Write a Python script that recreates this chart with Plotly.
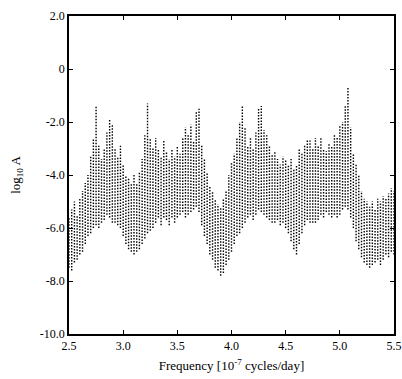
import plotly.graph_objects as go

# Frequency samples [10^-7 cycles/day]
freq = [round(2.5 + 0.025 * i, 3) for i in range(121)]

upper = [
    -5.6, -5.3, -5.0, -5.5, -4.9, -4.6, -4.3, -4.0, -3.3, -2.6,
    -1.4, -2.9, -3.4, -3.0, -2.4, -1.9, -2.1, -3.0, -3.3, -2.9,
    -3.6, -4.0, -4.1, -4.3, -4.0, -4.3, -3.9, -3.4, -2.5, -1.3,
    -2.6, -3.0, -2.6, -3.0, -3.3, -2.7, -3.1, -3.4, -3.0, -3.3,
    -2.9, -3.2, -2.6, -2.2, -2.5, -2.1, -2.7, -1.6, -1.5, -2.9,
    -3.4, -3.9, -4.4, -4.6, -4.9, -5.1, -5.2, -4.9, -4.6, -4.0,
    -3.5, -3.2, -2.6, -2.0, -1.4, -2.2, -2.9, -2.6, -3.0, -2.4,
    -1.5, -1.4, -2.3, -2.5, -2.9, -3.2, -3.1, -3.4, -3.6, -3.3,
    -3.4, -3.6, -3.4, -3.8, -3.6, -3.0, -3.2, -2.9, -2.7, -2.7,
    -3.0, -2.6, -2.9, -2.6, -3.0, -3.1, -2.8, -2.9, -2.5, -2.6,
    -2.1, -2.0, -1.4, -0.7, -2.2, -3.2, -3.6, -4.0, -4.6, -4.9,
    -5.0, -5.2, -5.0, -5.3, -4.9, -5.0, -4.8, -4.9, -4.7, -4.5,
    -4.6,
]

lower = [
    -7.5, -7.6, -7.3, -7.2, -7.0, -6.9, -6.6, -6.3, -6.2, -6.0,
    -5.9, -6.0, -5.8, -5.7, -5.5, -5.6, -5.8, -5.8, -5.9, -6.0,
    -6.3, -6.6, -6.8, -6.9, -7.0, -6.9, -6.8, -6.6, -6.4, -6.2,
    -6.1, -6.0, -5.8, -5.6, -5.9, -5.6, -5.7, -5.9, -5.6, -5.8,
    -5.6, -5.5, -5.4, -5.6, -5.5, -5.4, -5.3, -5.2, -5.4, -5.9,
    -6.3, -6.6, -7.0, -7.2, -7.5, -7.6, -7.8, -7.7, -7.4, -7.2,
    -6.9, -6.6, -6.3, -6.2, -6.0, -5.8, -5.6, -5.5, -5.7, -5.5,
    -5.3, -5.4, -5.5, -5.6, -5.7, -5.8, -5.8, -5.7, -5.9, -5.8,
    -6.0, -6.2, -6.5, -6.8, -7.0, -6.6, -6.2, -5.9, -5.7, -5.8,
    -5.8, -5.8, -5.7, -5.5, -5.6, -5.4, -5.5, -5.6, -5.5, -5.6,
    -5.5, -5.3, -5.2, -5.3, -5.6, -6.0, -6.5, -6.8, -7.1, -7.3,
    -7.4, -7.5, -7.4, -7.3, -7.2, -7.4, -7.2, -7.0, -7.1, -6.9,
    -7.0,
]

x_ticks = [2.5, 3.0, 3.5, 4.0, 4.5, 5.0, 5.5]
x_tick_text = ["2.5", "3.0", "3.5", "4.0", "4.5", "5.0", "5.5"]
y_ticks = [2, 0, -2, -4, -6, -8, -10]
y_tick_text = ["2.0", "0", "-2.0", "-4.0", "-6.0", "-8.0", "-10.0"]

xs, ys = [], []
for f, lo, hi in zip(freq, lower, upper):
    xs += [f, f, None]
    ys += [lo, hi, None]

fig = go.Figure()
fig.add_trace(go.Scatter(
    x=xs, y=ys, mode="lines",
    line=dict(color="black", width=1.4, dash="1.5px,1.5px"),
    hoverinfo="skip", showlegend=False,
))

font = "Liberation Serif, Times New Roman, serif"
fig.update_layout(
    width=402, height=379,
    margin=dict(l=69, r=8, t=16, b=45),
    paper_bgcolor="white", plot_bgcolor="white",
    font=dict(family=font, size=12, color="black"),
    showlegend=False,
)
fig.update_xaxes(
    range=[2.5, 5.5], tickvals=x_ticks, ticktext=x_tick_text,
    ticks="inside", ticklen=4, tickwidth=1.2, tickcolor="black",
    showline=True, linecolor="black", linewidth=1.6, mirror="ticks",
    showgrid=False, zeroline=False, automargin=False,
    title=dict(text="Frequency [10<sup>-7</sup> cycles/day]", font=dict(size=13), standoff=9),
)
fig.update_yaxes(
    range=[-10, 2], tickvals=y_ticks, ticktext=y_tick_text,
    ticks="inside", ticklen=4, tickwidth=1.2, tickcolor="black",
    showline=True, linecolor="black", linewidth=1.6, mirror="ticks",
    showgrid=False, zeroline=False, automargin=False,
    title=dict(text="log<sub>10</sub> A", font=dict(size=13), standoff=16),
)

fig.write_html("out.html")
